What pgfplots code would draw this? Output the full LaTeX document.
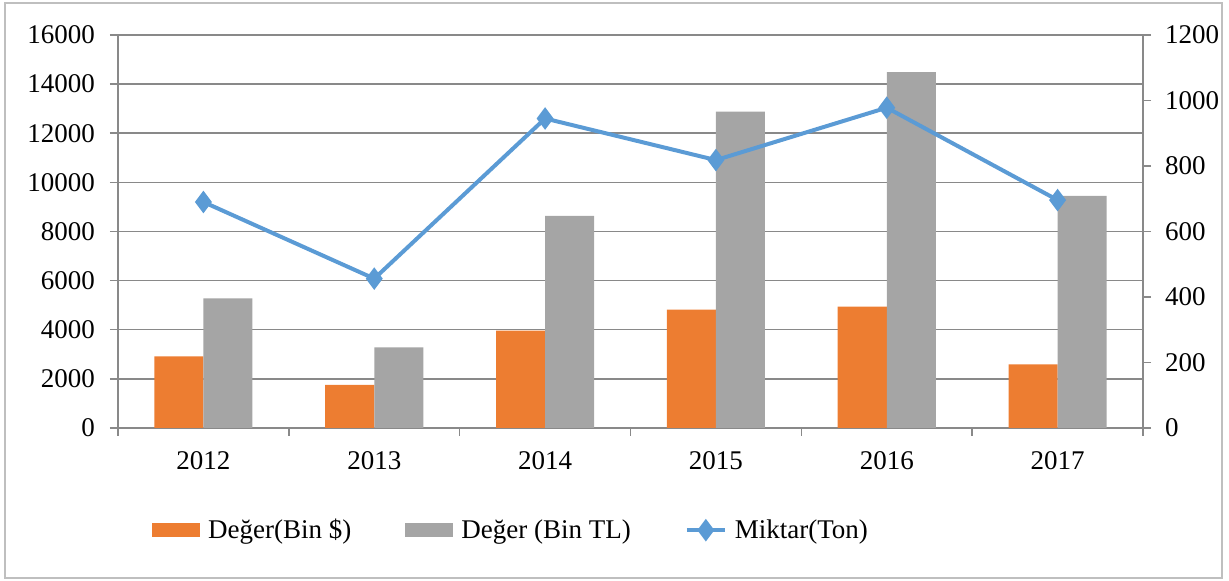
\documentclass[border=0pt]{standalone}
\usepackage{fontspec}
\setmainfont{Liberation Serif}
\usepackage{pgfplots}
\pgfplotsset{compat=1.18}

\definecolor{cOrange}{HTML}{ED7D31}
\definecolor{cGray}{HTML}{A5A5A5}
\definecolor{cBlue}{HTML}{5B9BD5}
\definecolor{cLine}{HTML}{898989}
\definecolor{cFrame}{HTML}{BFBFBF}

\pgfplotsset{
  base/.style={
    at={(59pt,76.5pt)}, anchor=south west,
    scale only axis, width=512.5pt, height=196.5pt,
    xmin=-0.5, xmax=5.5, ymin=0,
    tick align=outside,
    major tick length=4pt, minor tick length=4pt,
    axis line style={-, color=cLine, line width=0.75pt},
    every tick/.style={color=cLine, line width=0.75pt},
    tick label style={font=\fontsize{13.5}{15}\selectfont},
    /pgf/number format/1000 sep={},
    /pgf/number format/assume math mode=true,
    scaled y ticks=false,
  },
}

\begin{document}
\begin{tikzpicture}[font=\fontsize{13.5}{15}\selectfont]
\useasboundingbox (0,0) rectangle (614.5pt,290.5pt);
\draw[cFrame, line width=0.8pt] (2.5pt,1.5pt) rectangle (611pt,289pt);

\begin{axis}[
  base,
  ymax=16000,
  ytick={0,2000,...,16000},
  xtick={0,...,5},
  xticklabels={2012,2013,2014,2015,2016,2017},
  minor xtick={-0.5,0.5,...,5.5},
  major x tick style={draw=none},
  y tick label style={xshift=-4pt},
  x tick label style={yshift=-4pt},
  axis y line*=left, axis x line*=bottom,
  ymajorgrids,
  grid style={color=cLine, line width=0.75pt},
  bar width=0.287,
  legend columns=3,
  legend cell align=left,
  legend style={draw=none, fill=none, inner sep=0pt,
    at={(axis description cs:0.033,-0.26)}, anchor=west,
    font=\fontsize{13.5}{15}\selectfont,
    /tikz/every odd column/.append style={column sep=2pt},
    /tikz/every even column/.append style={column sep=25pt}},
]
\addplot[ybar, bar shift=-0.1435, fill=cOrange, draw=none,
  legend image code/.code={\fill[cOrange] (0pt,-3.5pt) rectangle (24pt,3.5pt);}]
  coordinates {(0,2920) (1,1760) (2,3965) (3,4815) (4,4940) (5,2590)};
\addlegendentry{Değer(Bin \$)}
\addplot[ybar, bar shift=0.1435, fill=cGray, draw=none,
  legend image code/.code={\fill[cGray] (0pt,-3.5pt) rectangle (24pt,3.5pt);}]
  coordinates {(0,5275) (1,3280) (2,8640) (3,12880) (4,14490) (5,9450)};
\addlegendentry{Değer (Bin TL)}
\addlegendimage{legend image code/.code={\draw[cBlue, line width=2pt,
    mark=diamond*, mark size=4pt, mark repeat=2, mark phase=2]
    plot coordinates {(0pt,0pt) (9.5pt,0pt) (19pt,0pt)};}}
\addlegendentry{Miktar(Ton)}
\end{axis}

\begin{axis}[
  base,
  ymax=1200,
  ytick={0,200,...,1200},
  y tick label style={xshift=3.5pt},
  axis y line*=right, axis x line=none,
]
\addplot[cBlue, line width=2pt, mark=diamond*, mark size=4pt,
  mark options={fill=cBlue, draw=cBlue}]
  coordinates {(0,690) (1,456) (2,945) (3,818) (4,978) (5,696)};
\end{axis}
\end{tikzpicture}
\end{document}
